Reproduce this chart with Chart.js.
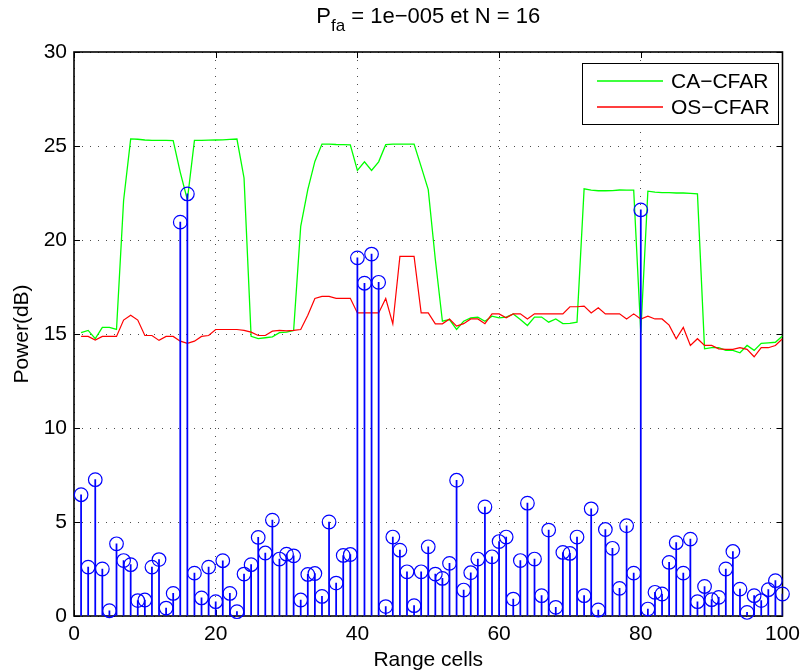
<!DOCTYPE html>
<html>
<head>
<meta charset="utf-8">
<script src="https://cdn.jsdelivr.net/npm/chart.js@4.4.1/dist/chart.umd.min.js"></script>
<style>
  html, body { margin: 0; padding: 0; background: #fff; }
  #wrap { width: 808px; height: 671px; }
</style>
</head>
<body>
<div id="wrap"><canvas id="cfarChart" width="808" height="671"></canvas></div>
<script>
// cellules de distance (axe x)
const cells = [
  1, 2, 3, 4, 5, 6, 7, 8, 9, 10, 11, 12, 13, 14, 15, 16, 17, 18, 19, 20,
  21, 22, 23, 24, 25, 26, 27, 28, 29, 30, 31, 32, 33, 34, 35, 36, 37, 38, 39, 40,
  41, 42, 43, 44, 45, 46, 47, 48, 49, 50, 51, 52, 53, 54, 55, 56, 57, 58, 59, 60,
  61, 62, 63, 64, 65, 66, 67, 68, 69, 70, 71, 72, 73, 74, 75, 76, 77, 78, 79, 80,
  81, 82, 83, 84, 85, 86, 87, 88, 89, 90, 91, 92, 93, 94, 95, 96, 97, 98, 99, 100
];

// puissance du signal reçu (stem, en dB)
const signalPower = [
  6.45, 2.6, 7.25, 2.5, 0.28, 3.84, 2.95, 2.73, 0.82, 0.85,
  2.6, 3.0, 0.42, 1.2, 20.95, 22.45, 2.28, 0.96, 2.6, 0.76,
  2.94, 1.2, 0.23, 2.23, 2.73, 4.18, 3.35, 5.1, 3.03, 3.29,
  3.2, 0.85, 2.21, 2.26, 1.04, 5.0, 1.75, 3.22, 3.27, 19.05,
  17.7, 19.25, 17.75, 0.5, 4.2, 3.5, 2.35, 0.55, 2.35, 3.68,
  2.23, 2.0, 2.8, 7.22, 1.38, 2.3, 3.03, 5.8, 3.15, 3.96,
  4.2, 0.9, 2.95, 6.0, 3.03, 1.08, 4.57, 0.46, 3.38, 3.33,
  4.2, 1.08, 5.7, 0.32, 4.6, 3.6, 1.47, 4.8, 2.28, 21.6,
  0.37, 1.26, 1.17, 2.85, 3.9, 2.28, 4.09, 0.76, 1.57, 0.87,
  0.99, 2.5, 3.43, 1.43, 0.19, 1.08, 0.82, 1.4, 1.88, 1.17
];

// seuil CA-CFAR (dB)
const caCfar = [
  15.07, 15.19, 14.75, 15.35, 15.35, 15.24, 22.1, 25.38, 25.36, 25.32,
  25.3, 25.3, 25.3, 25.29, 23.6, 22.14, 25.3, 25.3, 25.31, 25.32,
  25.33, 25.35, 25.37, 23.3, 14.88, 14.75, 14.8, 14.85, 15.07, 15.1,
  15.19, 20.73, 22.68, 24.18, 25.1, 25.1, 25.08, 25.07, 25.06, 23.7,
  24.16, 23.7, 24.16, 25.07, 25.1, 25.1, 25.1, 25.1, 23.9, 22.68,
  18.96, 15.68, 15.77, 15.24, 15.68, 15.86, 15.9, 15.68, 15.95, 15.86,
  15.9, 16.07, 15.77, 15.45, 15.9, 15.9, 15.63, 15.8, 15.55, 15.57,
  15.63, 22.72, 22.65, 22.62, 22.62, 22.63, 22.66, 22.65, 22.65, 15.08,
  22.6, 22.55, 22.52, 22.52, 22.5, 22.5, 22.48, 22.45, 14.21, 14.27,
  14.27, 14.13, 14.13, 14.0, 14.39, 14.13, 14.5, 14.53, 14.56, 14.89
];

// seuil OS-CFAR (dB)
const osCfar = [
  14.87, 14.87, 14.68, 14.87, 14.87, 14.87, 15.74, 16.0, 15.74, 14.92,
  14.92, 14.66, 14.87, 14.87, 14.62, 14.5, 14.62, 14.87, 14.92, 15.24,
  15.24, 15.24, 15.24, 15.19, 15.1, 14.92, 14.92, 15.15, 15.19, 15.17,
  15.19, 15.24, 16.0, 16.89, 17.0, 17.0, 16.9, 16.9, 16.9, 16.12,
  16.12, 16.12, 16.12, 16.89, 15.54, 19.13, 19.13, 19.13, 16.12, 16.12,
  15.54, 15.54, 15.8, 15.42, 15.55, 15.8, 15.8, 15.55, 16.07, 16.07,
  15.86, 16.07, 16.07, 15.8, 16.07, 16.07, 16.07, 16.07, 16.07, 16.45,
  16.45, 16.48, 16.12, 16.4, 16.07, 16.07, 16.07, 15.8, 16.07, 15.8,
  15.95, 15.8, 15.8, 15.47, 14.75, 15.35, 14.39, 14.75, 14.39, 14.39,
  14.21, 14.18, 14.18, 14.27, 14.18, 13.79, 14.27, 14.27, 14.39, 14.75
];

const legendLabels = ['CA−CFAR', 'OS−CFAR'];
const legendColors = ['#00ff00', '#ff0000'];
const xTicks = [0, 20, 40, 60, 80, 100];
const yTicks = [0, 5, 10, 15, 20, 25, 30];

const FONT = "'Liberation Sans', Arial, Helvetica, sans-serif";

function toPoints(values) {
  return cells.map((c, i) => ({ x: c, y: values[i] }));
}

// axes façon MATLAB : cadre, petits traits vers l'intérieur, légende et titre
const matlabAxes = {
  id: 'matlabAxes',
  beforeDatasetsDraw(chart) {
    const { ctx, chartArea: a, scales } = chart;
    ctx.save();
    ctx.setLineDash([]);
    ctx.globalAlpha = 1;
    ctx.strokeStyle = '#000';
    ctx.lineWidth = 1;
    ctx.beginPath();
    xTicks.forEach(v => {
      const px = Math.round(scales.x.getPixelForValue(v)) + 0.5;
      ctx.moveTo(px, a.bottom); ctx.lineTo(px, a.bottom - 6);
      ctx.moveTo(px, a.top); ctx.lineTo(px, a.top + 6);
    });
    yTicks.forEach(v => {
      const py = Math.round(scales.y.getPixelForValue(v)) + 0.5;
      ctx.moveTo(a.left, py); ctx.lineTo(a.left + 6, py);
      ctx.moveTo(a.right, py); ctx.lineTo(a.right - 6, py);
    });
    ctx.stroke();
    ctx.lineWidth = 1.6;
    ctx.strokeRect(a.left, a.top, a.right - a.left, a.bottom - a.top);
    ctx.restore();
  },
  afterDraw(chart) {
    const { ctx, chartArea: a } = chart;
    ctx.save();
    ctx.setLineDash([]);
    ctx.globalAlpha = 1;
    ctx.globalCompositeOperation = 'source-over';

    // légende
    const box = { x: 582.5, y: 63.5, w: 196, h: 61 };
    ctx.fillStyle = '#fff';
    ctx.fillRect(box.x, box.y, box.w, box.h);
    ctx.strokeStyle = '#000';
    ctx.lineWidth = 1;
    ctx.strokeRect(box.x, box.y, box.w, box.h);
    ctx.font = '21px ' + FONT;
    ctx.textBaseline = 'middle';
    ctx.textAlign = 'left';
    legendLabels.forEach((label, i) => {
      const y = Math.round(box.y + 17 + i * 26);
      ctx.fillStyle = legendColors[i];
      ctx.fillRect(597, y - 0.75, 66, 1.5);
      ctx.fillStyle = '#000';
      ctx.fillText(label, 671, y + 1);
    });

    // titre avec indice
    const main1 = 'P', sub = 'fa', main2 = ' = 1e−005 et N = 16';
    ctx.font = '22px ' + FONT;
    const w1 = ctx.measureText(main1).width;
    const w3 = ctx.measureText(main2).width;
    ctx.font = '17px ' + FONT;
    const w2 = ctx.measureText(sub).width;
    let x = (a.left + a.right) / 2 - (w1 + w2 + w3) / 2;
    const base = 23;
    ctx.textBaseline = 'alphabetic';
    ctx.fillStyle = '#000';
    ctx.font = '22px ' + FONT;
    ctx.fillText(main1, x, base);
    x += w1;
    ctx.font = '17px ' + FONT;
    ctx.fillText(sub, x, base + 8);
    x += w2;
    ctx.font = '22px ' + FONT;
    ctx.fillText(main2, x, base);
    ctx.restore();
  }
};

const ctx = document.getElementById('cfarChart').getContext('2d');
const cfarChart = new Chart(ctx, {
  type: 'line',
  data: {
    datasets: [
      {
        type: 'scatter',
        label: 'cercles',
        data: toPoints(signalPower),
        borderColor: '#0000ff',
        backgroundColor: 'rgba(0,0,0,0)',
        borderWidth: 1.2,
        pointStyle: 'circle',
        pointRadius: 6.8,
        showLine: false,
        clip: false,
        order: 0
      },
      {
        type: 'bar',
        label: 'stems',
        data: toPoints(signalPower),
        backgroundColor: '#0000ff',
        barThickness: 1.1,
        order: 1
      },
      {
        label: legendLabels[1],
        data: toPoints(osCfar),
        borderColor: legendColors[1],
        borderWidth: 1.2,
        pointRadius: 0,
        tension: 0,
        fill: false,
        order: 2
      },
      {
        label: legendLabels[0],
        data: toPoints(caCfar),
        borderColor: legendColors[0],
        borderWidth: 1.3,
        pointRadius: 0,
        tension: 0,
        fill: false,
        order: 3
      }
    ]
  },
  options: {
    responsive: false,
    animation: false,
    layout: { padding: { top: 52, right: 19, left: 0, bottom: 0 } },
    plugins: {
      legend: { display: false },
      tooltip: { enabled: false },
      title: { display: false }
    },
    scales: {
      x: {
        type: 'linear',
        min: 0,
        max: 100,
        offset: false,
        afterFit(scale) { scale.height = 55; },
        afterBuildTicks(scale) { scale.ticks = xTicks.map(v => ({ value: v })); },
        grid: { color: 'rgba(0,0,0,0.7)', lineWidth: 1, drawTicks: false, offset: false },
        border: { display: false, dash: [1, 7] },
        ticks: { color: '#000', padding: 8, maxRotation: 0, font: { family: FONT, size: 21, lineHeight: 1 } },
        title: {
          display: true,
          text: 'Range cells',
          color: '#000',
          padding: { top: 0, bottom: 0 },
          font: { family: FONT, size: 21, lineHeight: 1 }
        }
      },
      y: {
        min: 0,
        max: 30,
        afterFit(scale) { scale.width = 74; },
        afterBuildTicks(scale) { scale.ticks = yTicks.map(v => ({ value: v })); },
        grid: { color: 'rgba(0,0,0,0.7)', lineWidth: 1, drawTicks: false },
        border: { display: false, dash: [1, 7] },
        ticks: { color: '#000', padding: 7, font: { family: FONT, size: 21, lineHeight: 1 } },
        title: {
          display: true,
          text: 'Power(dB)',
          color: '#000',
          padding: { top: 12, bottom: 0 },
          font: { family: FONT, size: 21, lineHeight: 1 }
        }
      }
    }
  },
  plugins: [matlabAxes]
});
</script>
</body>
</html>
